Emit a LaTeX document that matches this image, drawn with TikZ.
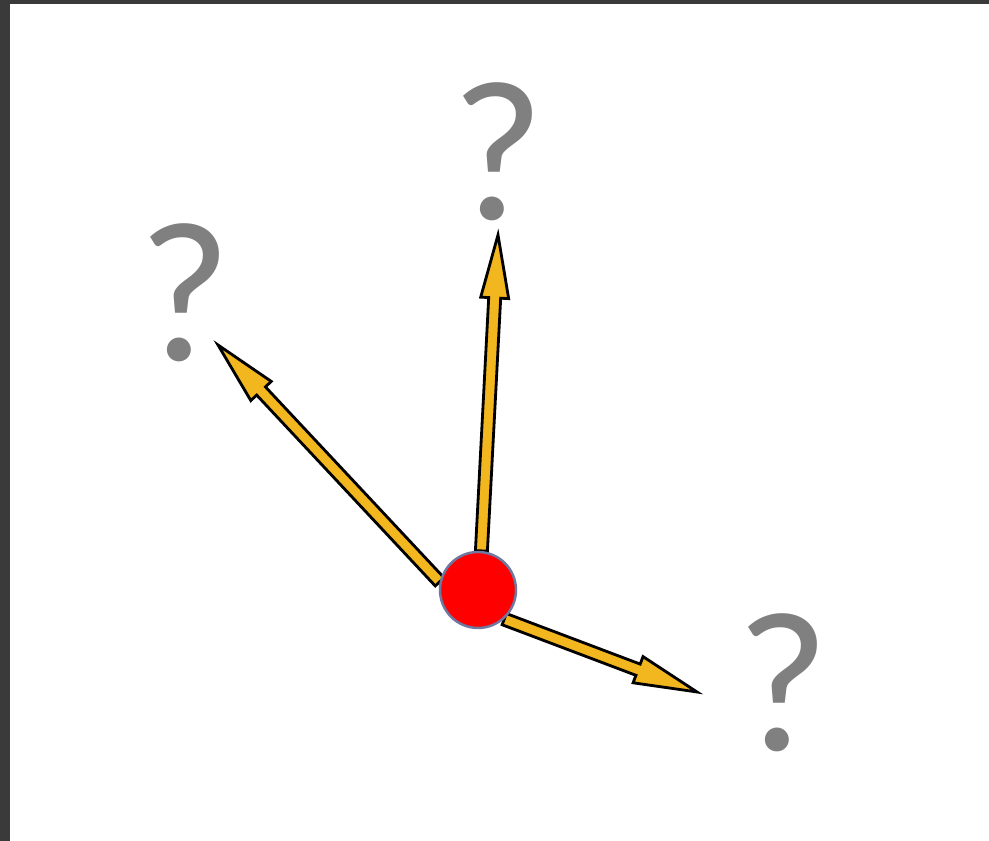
\documentclass[tikz,border=0pt]{standalone}
\usepackage{fontspec}
\setmainfont{Carlito}
\usepackage{tikz}
\usetikzlibrary{calc, backgrounds}

\definecolor{frame}{RGB}{58,58,58}
\definecolor{arrfill}{RGB}{242,182,30}
\definecolor{qgray}{RGB}{128,128,128}
\definecolor{dotrim}{RGB}{110,120,160}

% block arrow from #1 to tip #2
\newcommand{\blockarrow}[2]{%
    \coordinate (h) at ($(#2)!0.63cm!(#1)$);
    \path[blockarr] ($(#1)!0.06cm!90:(#2)$) -- ($(h)!0.06cm!-90:(#1)$)
        -- ($(h)!0.14cm!-90:(#1)$) -- (#2) -- ($(h)!0.14cm!90:(#1)$)
        -- ($(h)!0.06cm!90:(#1)$) -- ($(#1)!0.06cm!-90:(#2)$) -- cycle;
}

\begin{document}
\begin{tikzpicture}[
        qmark/.style={text=qgray, inner sep=0pt, font=\fontsize{57}{57}\selectfont},
        dot/.style={circle, fill=red, draw=dotrim, line width=0.7pt,
            minimum size=0.76cm, inner sep=0pt},
        blockarr/.style={fill=arrfill, draw=black, line width=0.8pt, line join=miter}
    ]
    \useasboundingbox (0,0) rectangle (9.89,8.41);
    \fill[frame] (0,0) rectangle (0.10,8.41);
    \fill[frame] (0,8.37) rectangle (9.89,8.41);

    \node[dot] (dot) at (4.78,2.51) {};

    \node[qmark] (qtop) at (4.98,6.89) {?};
    \node[qmark] (qleft) at (1.85,5.48) {?};
    \node[qmark] (qright) at (7.83,1.58) {?};

    \coordinate (tiptop) at (4.98,6.06);
    \coordinate (tipleft) at (2.18,4.96);
    \coordinate (tipright) at (6.97,1.49);

    \begin{scope}[on background layer]
        \blockarrow{dot.85}{tiptop}
        \blockarrow{dot.168}{tipleft}
        \blockarrow{dot.-48}{tipright}
    \end{scope}
\end{tikzpicture}
\end{document}
